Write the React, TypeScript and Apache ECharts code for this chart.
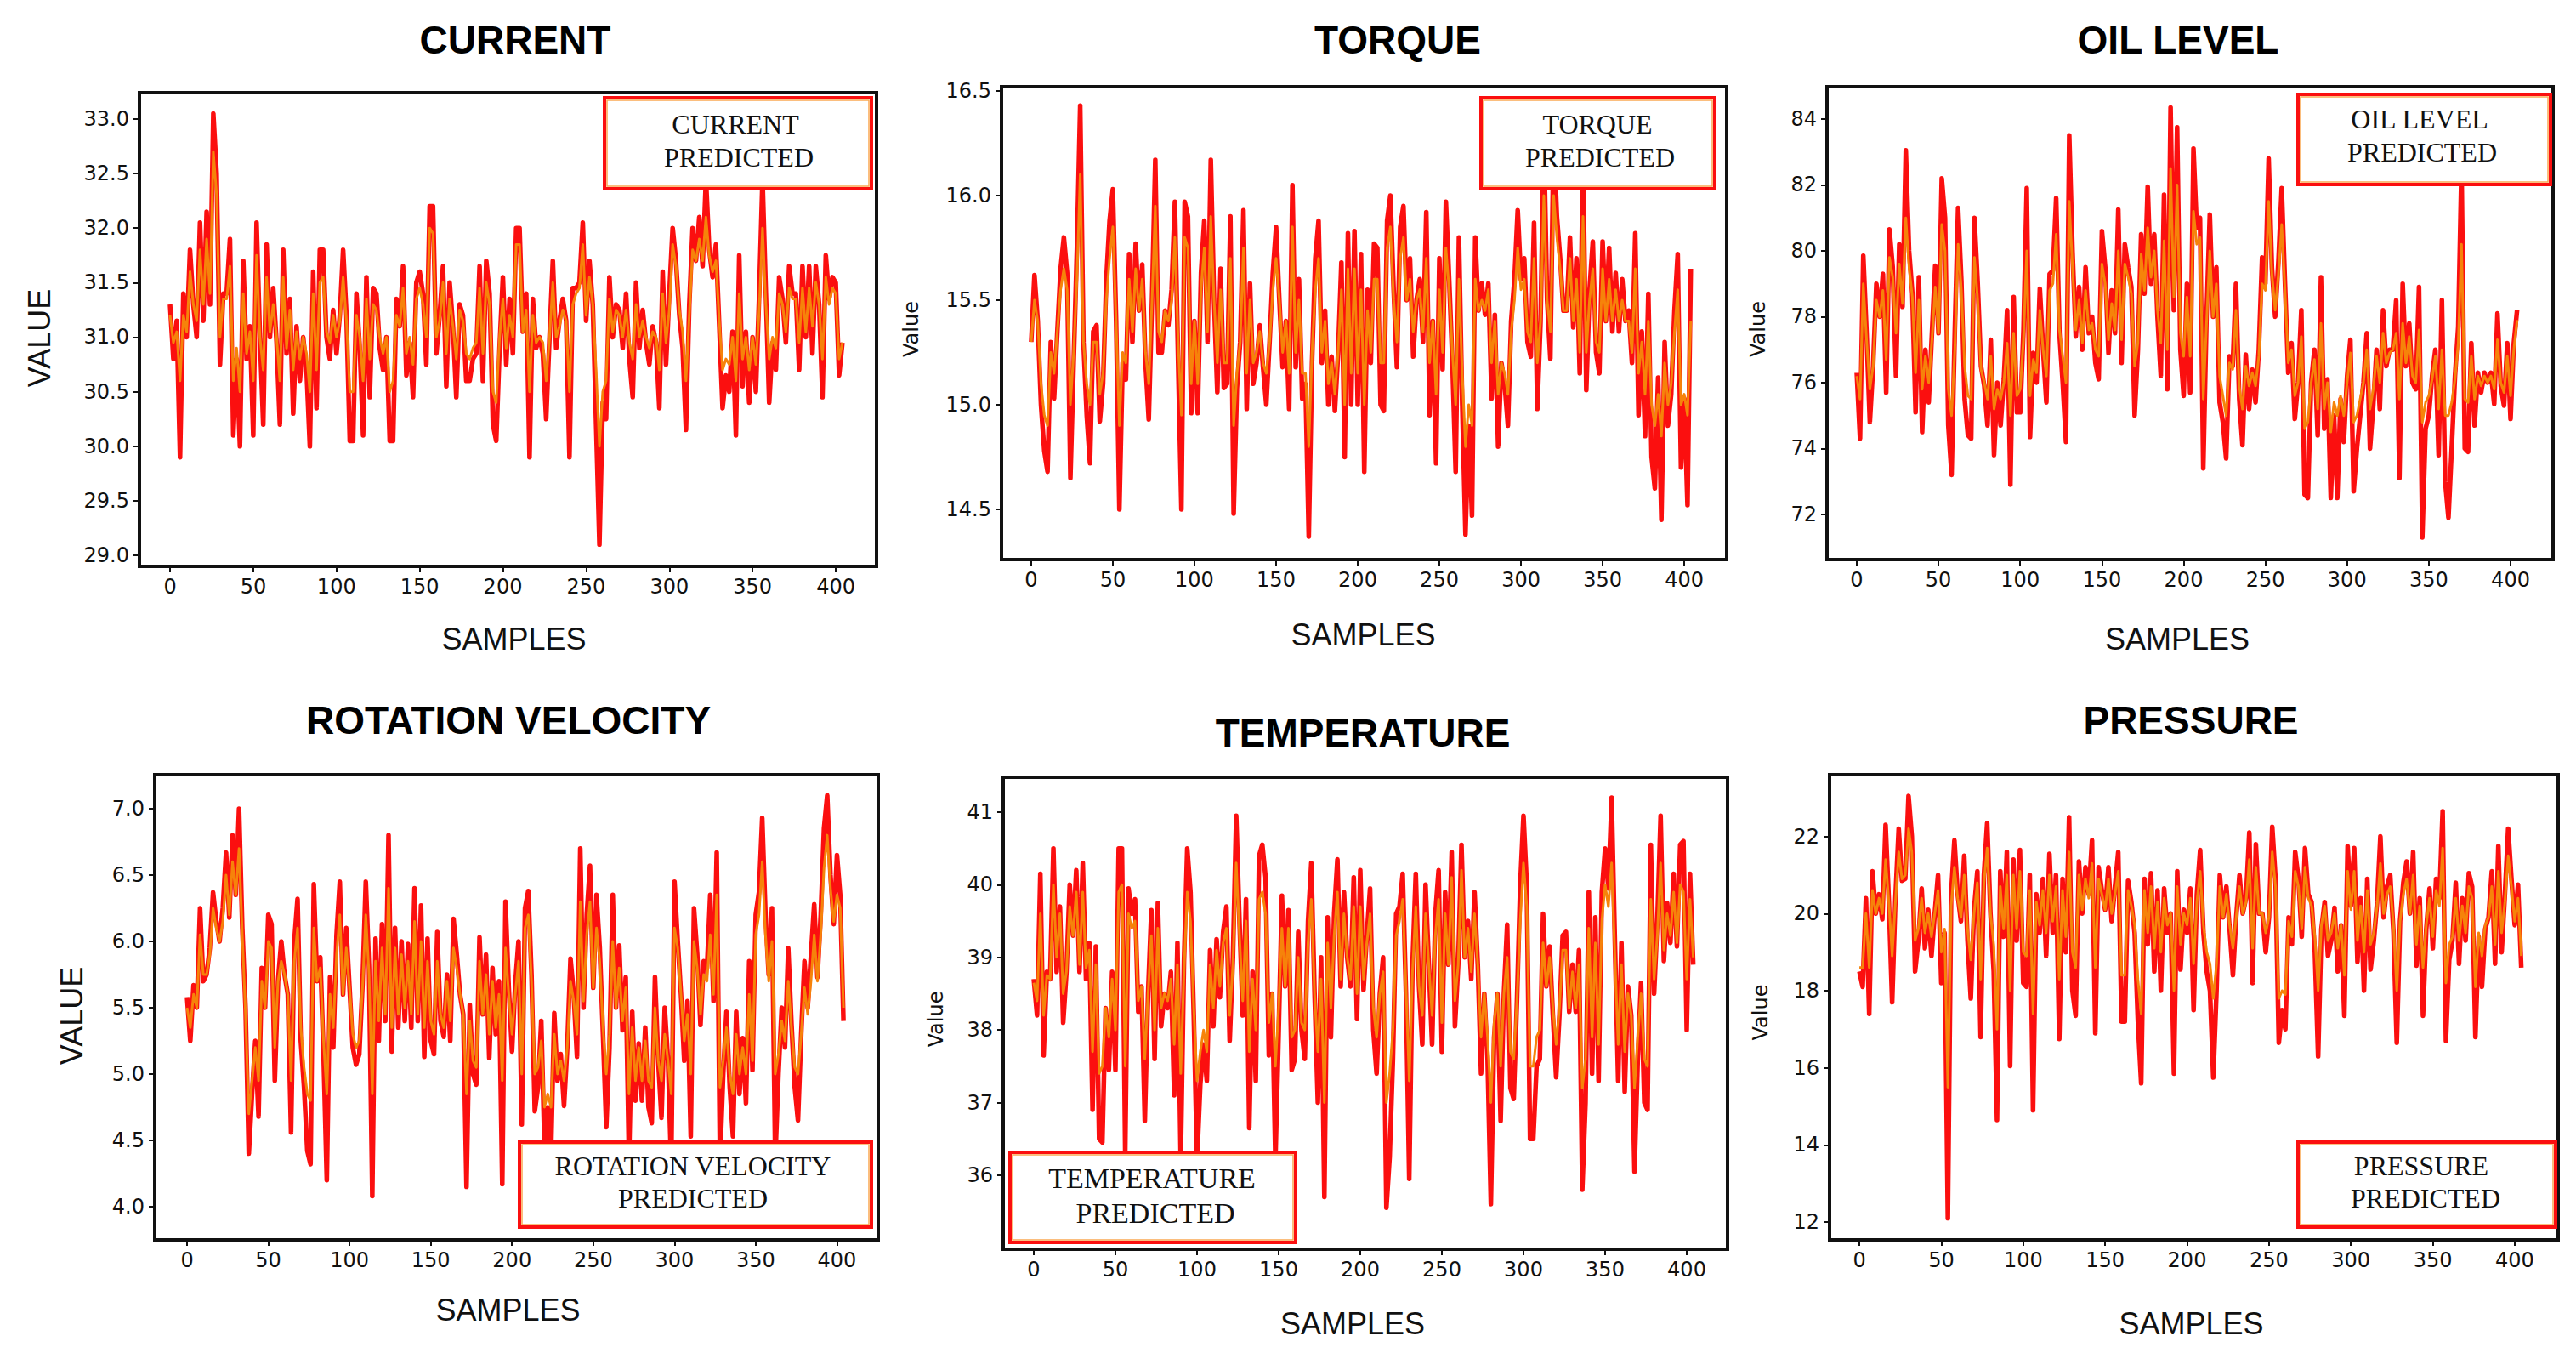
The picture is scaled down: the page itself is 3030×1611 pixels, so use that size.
import React, { useEffect, useRef } from "react";
import * as echarts from "echarts";

// Sample spacing of the value lists below: each list holds readings at samples 0, 2, 4 ... 404.
const sampleStep = 2;

const currentActual = [
  31.3,30.8,31.15,29.9,31.4,31.0,31.8,31.3,31.0,32.05,
  31.15,32.15,31.3,33.05,32.5,30.75,31.4,31.4,31.9,30.1,
  30.8,30.0,31.7,30.8,31.1,30.1,32.05,31.0,30.2,31.85,
  31.0,31.45,30.95,30.2,31.8,30.85,31.35,30.3,31.1,30.6,
  31.0,30.7,30.0,31.6,30.35,31.8,31.8,31.0,30.8,31.25,
  30.85,31.2,31.8,31.2,30.05,30.05,31.4,30.9,30.1,31.55,
  30.45,31.45,31.4,30.9,30.7,31.0,30.05,30.05,31.35,31.1,
  31.65,30.65,30.95,30.45,31.5,31.6,31.4,30.75,32.2,32.2,
  30.85,31.2,31.65,30.55,31.5,31.1,30.45,31.3,31.2,30.6,
  30.6,30.8,30.85,31.65,30.6,31.7,31.4,30.2,30.05,30.9,
  31.55,30.75,31.35,30.85,32.0,32.0,31.05,31.4,29.9,31.35,
  30.9,31.0,30.85,30.25,31.0,31.7,30.9,31.15,31.35,31.15,
  29.9,31.45,31.45,31.5,32.05,31.15,31.7,31.3,30.2,29.1,
  30.4,30.25,31.55,31.0,31.3,31.25,30.9,31.4,30.8,30.45,
  31.5,30.9,31.25,30.95,30.75,31.1,30.95,30.35,31.6,30.75,
  31.4,32.0,31.7,31.2,30.9,30.15,31.3,32.0,31.7,32.1,
  31.65,32.45,31.8,31.55,31.85,31.1,30.35,30.65,30.5,31.05,
  30.1,31.75,30.55,31.05,30.4,31.0,30.5,31.4,32.45,31.4,
  30.4,30.95,30.7,31.55,31.35,30.95,31.65,31.4,31.4,30.7,
  31.65,31.0,31.65,30.85,31.65,31.3,30.45,31.75,31.35,31.55,
  31.5,30.65,30.95,
];
const currentPredicted = [
  31.2,30.95,31.05,30.6,31.2,31.05,31.6,31.3,31.15,31.8,
  31.3,31.9,31.4,32.7,32.3,31.0,31.35,31.35,31.65,30.6,
  30.9,30.5,31.4,30.85,31.05,30.6,31.75,31.0,30.7,31.55,
  31.05,31.3,31.0,30.6,31.55,30.9,31.25,30.7,31.05,30.8,
  31.0,30.85,30.5,31.4,30.7,31.5,31.55,31.05,30.95,31.2,
  31.0,31.15,31.55,31.15,30.5,30.5,31.2,31.0,30.6,31.35,
  30.8,31.3,31.25,31.0,30.85,31.0,30.5,30.6,31.2,31.1,
  31.45,30.85,31.0,30.75,31.35,31.45,31.3,31.0,32.0,31.95,
  31.0,31.15,31.5,30.85,31.35,31.1,30.8,31.25,31.15,30.85,
  30.8,30.9,30.95,31.45,30.85,31.5,31.3,30.5,30.4,31.0,
  31.35,30.9,31.2,31.0,31.85,31.85,31.05,31.25,30.5,31.2,
  30.95,31.0,30.95,30.6,31.0,31.5,31.0,31.1,31.25,31.15,
  30.5,31.3,31.4,31.45,31.85,31.2,31.55,31.3,30.7,30.0,
  30.5,30.6,31.35,31.05,31.25,31.2,31.0,31.25,30.95,30.8,
  31.3,31.0,31.15,31.0,30.9,31.05,31.0,30.7,31.4,30.95,
  31.25,31.85,31.65,31.25,31.05,30.6,31.2,31.8,31.7,31.9,
  31.7,32.1,31.75,31.6,31.7,31.15,30.7,30.8,30.75,31.0,
  30.6,31.4,30.8,31.0,30.7,31.0,30.75,31.25,32.0,31.3,
  30.8,31.0,30.9,31.4,31.3,31.05,31.45,31.35,31.35,30.95,
  31.45,31.05,31.45,31.1,31.5,31.3,30.8,31.55,31.3,31.45,
  31.4,30.8,30.95,
];

const torqueActual = [
  15.3,15.62,15.4,15.0,14.78,14.68,15.3,15.03,15.35,15.65,
  15.8,15.63,14.65,15.2,15.75,16.43,15.3,14.95,14.72,15.35,
  15.38,14.92,15.1,15.6,15.88,16.03,15.4,14.5,15.2,15.12,
  15.72,15.3,15.77,15.45,15.67,15.2,14.93,15.5,16.17,15.25,
  15.25,15.45,15.38,15.55,15.97,15.2,14.5,15.97,15.9,14.96,
  15.4,14.96,15.63,15.88,15.3,16.17,15.5,15.06,15.65,15.08,
  15.1,15.9,14.48,15.08,15.3,15.93,14.98,15.58,15.1,15.2,
  15.38,15.18,15.0,15.3,15.63,15.85,15.5,15.18,15.4,14.98,
  16.05,15.18,15.6,15.03,15.1,14.37,15.2,15.7,15.88,15.2,
  15.45,15.0,15.23,14.97,15.25,15.68,14.75,15.82,15.0,15.83,
  15.0,15.72,14.68,15.55,15.2,15.77,15.75,15.0,14.97,15.88,
  16.0,15.55,15.18,15.85,15.95,15.5,15.7,15.23,15.5,15.6,
  15.3,15.92,14.95,15.4,14.72,15.7,15.17,15.97,15.6,15.2,
  14.68,15.8,15.0,14.38,14.9,14.47,15.8,15.45,15.58,15.43,
  15.58,15.03,15.43,14.8,15.2,15.1,14.9,15.4,15.6,15.93,
  15.6,15.7,15.3,15.23,15.87,14.98,15.4,16.3,15.5,15.22,
  16.3,15.9,15.7,15.45,15.45,15.8,15.37,15.7,15.15,16.2,
  15.07,15.55,15.78,15.25,15.15,15.78,15.4,15.75,15.35,15.63,
  15.35,15.6,15.4,15.45,15.2,15.82,14.95,15.35,14.85,15.53,
  14.75,14.6,15.13,14.45,15.3,14.9,15.05,15.45,15.72,14.7,
  15.03,14.52,15.65,
];
const torquePredicted = [
  15.3,15.5,15.4,15.1,14.95,14.9,15.25,15.15,15.35,15.55,
  15.65,15.55,15.0,15.25,15.6,16.1,15.3,15.1,15.0,15.3,
  15.3,15.05,15.15,15.5,15.7,15.85,15.4,14.9,15.25,15.2,
  15.6,15.35,15.65,15.45,15.6,15.25,15.1,15.5,15.95,15.35,
  15.3,15.45,15.4,15.5,15.8,15.3,14.95,15.8,15.75,15.1,
  15.4,15.1,15.55,15.75,15.35,15.9,15.5,15.2,15.55,15.2,
  15.2,15.7,14.9,15.15,15.3,15.75,15.15,15.5,15.2,15.25,
  15.35,15.2,15.15,15.3,15.55,15.7,15.5,15.25,15.4,15.15,
  15.85,15.25,15.5,15.15,15.15,14.8,15.25,15.55,15.7,15.25,
  15.4,15.1,15.2,15.05,15.25,15.55,15.0,15.65,15.15,15.65,
  15.15,15.55,15.0,15.45,15.25,15.6,15.6,15.2,15.2,15.75,
  15.85,15.5,15.3,15.7,15.8,15.5,15.6,15.35,15.5,15.55,
  15.35,15.7,15.2,15.4,15.05,15.55,15.25,15.75,15.55,15.25,
  15.0,15.6,15.15,14.8,15.0,14.9,15.6,15.45,15.5,15.45,
  15.55,15.2,15.4,15.05,15.2,15.15,15.05,15.35,15.5,15.75,
  15.55,15.6,15.35,15.3,15.7,15.2,15.4,16.0,15.5,15.35,
  16.0,15.8,15.65,15.45,15.45,15.7,15.4,15.6,15.25,15.9,
  15.25,15.5,15.65,15.3,15.25,15.65,15.4,15.6,15.4,15.55,
  15.4,15.5,15.4,15.4,15.25,15.65,15.15,15.3,15.05,15.4,
  15.0,14.9,15.05,14.85,15.2,15.0,15.1,15.35,15.55,15.0,
  15.05,14.95,15.4,
];

const oilActual = [
  76.3,74.3,79.85,77.5,74.8,76.5,79.0,78.0,79.3,75.7,
  80.65,79.5,76.2,80.2,78.3,83.05,80,78.7,75.1,79.2,
  74.5,77,75.4,77.5,79.55,77.5,82.2,81,74.7,73.2,
  77.6,81.3,79.1,75.5,74.4,74.3,81,79,76.5,75.9,
  74.7,77.3,73.8,76,74.7,76.1,78.2,72.9,78.6,75.1,
  75.1,77.6,81.9,74.35,76.9,76,78.85,77,75.4,79.3,
  79.4,81.6,77.5,76,74.2,83.5,80,77.4,78.9,77,
  79.5,77.5,78,76.6,76.1,80.6,79.5,76.9,78.8,77.5,
  81.25,76.6,80.2,79.5,78.9,75,77,80.5,78.7,81.95,
  79,80.5,78,76.2,81.7,75.8,84.35,78.2,83.75,77,
  75.6,79,75.7,83.1,80.7,81,73.4,78,81.1,78,
  79.5,75.4,74.8,73.7,76.8,76.5,79,75.5,74.1,76.85,
  75.2,76.4,75.4,77,79.8,79,82.8,79.5,78,79.7,
  81.9,79,76.3,77.2,74.9,76,78.2,72.6,72.5,76,
  77,74.4,79.2,74.6,76.1,72.5,75,72.5,75.5,74.2,
  76.2,77.3,72.7,74,75,76,77.5,74,75.3,77,
  75.2,78.2,76.5,77,77,78.5,73.1,79,76.5,77.8,
  76,75.8,78.9,71.3,74.6,75,76.2,77,73.8,78.5,
  73,71.9,74,76.2,77.7,82.6,74,73.9,77.2,74.7,
  76.3,75.7,76.3,76,76.3,75.35,78.1,75.9,75.3,77.2,
  74.9,77.2,78.2,
];
const oilPredicted = [
  76.2,75.5,79,77.3,75.8,76.5,78.5,78,78.8,76.7,
  79.8,79.2,77.5,79.6,78.4,81,79.5,78.6,76.3,78.5,
  75.8,76.8,76,77.3,78.9,77.5,80.8,80,75.8,75,
  77,80.2,78.8,76.5,75.6,75.5,79.8,78.5,76.4,76,
  75.5,76.8,75.2,75.8,75.5,76,77.2,75,77.5,75.6,
  75.8,77.3,80,75.6,76.7,76.3,78.2,77,76.2,78.8,
  79,80.5,77.6,76.8,76,81.5,79.5,77.6,78.5,77.2,
  78.8,77.6,77.8,77,76.8,79.6,79,77.3,78.4,77.6,
  80,77.3,79.6,79.2,78.7,76.5,77.2,79.9,78.8,80.7,
  79.2,80,78.2,77.2,80.3,77,82.5,78.6,82,77.5,
  76.8,78.6,76.8,81.2,80.2,80.4,75.5,77.8,80,78,
  79,76.2,75.6,75,76.6,76.4,78.2,75.9,75.2,76.5,
  75.9,76.3,75.9,76.8,79,78.8,81.5,79.3,78.2,79.3,
  80.8,78.8,76.6,77,75.6,76,77.4,74.6,74.8,76,
  76.7,75.2,77.8,75.2,76,74.5,75.4,75,75.6,75,
  76,76.9,74.8,75,75.5,76,77,75.2,75.8,76.8,
  76,77.5,76.6,76.9,77,77.5,75.5,77.8,76.6,77.4,
  76.2,76,77.6,74.8,75.4,75.6,76.1,76.8,75.2,77,
  75,75,75.4,76.1,77.2,80.2,75.5,75.4,76.8,75.5,
  76.2,75.9,76.2,76,76.2,75.8,77.3,76,75.7,76.8,
  75.6,77,77.9,
];

const rotationActual = [
  5.58,5.25,5.67,5.5,6.25,5.7,5.75,5.95,6.37,6.15,
  6.0,6.25,6.67,6.18,6.8,6.35,7.0,6.1,5.5,4.4,
  4.85,5.25,4.68,5.8,5.5,6.2,6.13,4.95,5.7,6.0,
  5.75,5.6,4.56,6.0,6.32,5.25,4.9,4.42,4.32,6.43,
  5.7,5.88,5.15,4.2,5.73,5.2,6.05,6.45,5.6,6.1,
  5.65,5.2,5.07,5.15,5.68,6.45,5.8,4.08,6.02,5.25,
  6.13,5.4,6.8,5.17,6.1,5.35,6.0,5.4,5.98,5.35,
  6.4,5.4,6.27,5.13,6.02,5.25,5.15,6.07,5.4,5.28,
  5.75,5.25,6.17,5.9,5.6,5.45,4.15,5.52,5.0,4.92,
  6.03,5.45,5.9,5.12,5.8,5.3,5.7,4.17,6.3,5.65,
  5.17,5.68,6.0,4.62,6.25,6.38,5.75,4.72,4.9,5.4,
  4.45,4.75,4.4,5.46,4.95,5.15,4.76,5.2,5.87,5.6,
  5.13,6.7,5.5,6.2,6.57,5.65,6.35,5.95,5.3,4.6,
  5.2,6.35,5.5,5.97,5.33,5.73,4.35,5.47,4.8,5.23,
  4.8,5.35,4.75,4.63,5.73,5.1,4.67,5.5,5.1,4.3,
  6.45,6.0,5.6,5.1,5.55,4.53,6.25,5.9,5.37,5.85,
  5.8,6.35,5.55,6.67,4.35,5.0,5.47,4.9,4.53,5.47,
  4.85,5.27,4.78,5.85,5.03,6.2,6.37,6.93,6.2,5.75,
  6.25,4.35,5.0,5.5,5.2,5.95,5.38,4.9,4.65,5.3,
  5.85,5.5,5.9,6.28,5.73,6.2,6.85,7.1,6.5,6.13,
  6.65,6.35,5.4,
];
const rotationPredicted = [
  5.5,5.35,5.6,5.5,6.05,5.75,5.75,5.9,6.25,6.1,
  6.0,6.15,6.5,6.2,6.6,6.35,6.7,6.05,5.45,4.7,
  4.95,5.2,4.95,5.7,5.5,6.0,5.95,5.2,5.7,5.85,
  5.75,5.6,4.95,5.85,6.1,5.35,5.05,4.85,4.8,6.1,
  5.7,5.8,5.25,4.85,5.6,5.35,5.9,6.2,5.6,5.95,
  5.65,5.3,5.2,5.25,5.65,6.2,5.75,4.85,5.85,5.4,
  5.95,5.45,6.4,5.35,5.95,5.45,5.9,5.5,5.85,5.45,
  6.15,5.45,6.0,5.35,5.85,5.4,5.3,5.85,5.45,5.35,
  5.7,5.4,5.95,5.8,5.6,5.45,4.85,5.4,5.1,5.05,
  5.85,5.45,5.75,5.3,5.7,5.35,5.6,4.95,5.95,5.6,
  5.3,5.6,5.85,5.0,6.1,6.2,5.7,5.0,5.05,5.25,
  4.75,4.85,4.75,5.3,5.0,5.1,4.95,5.2,5.7,5.55,
  5.3,6.3,5.55,6.05,6.3,5.65,6.1,5.85,5.35,5.0,
  5.3,6.0,5.5,5.8,5.4,5.65,4.85,5.35,4.95,5.2,
  4.95,5.25,4.95,4.9,5.5,5.1,4.95,5.3,5.1,4.85,
  6.1,5.95,5.6,5.25,5.45,5.0,6.0,5.8,5.45,5.75,
  5.7,6.05,5.6,6.35,4.9,5.1,5.35,5.0,4.85,5.3,
  5.0,5.2,5.0,5.6,5.1,6.05,6.2,6.6,6.05,5.7,
  6.0,5.0,5.15,5.4,5.25,5.7,5.35,5.05,5.0,5.3,
  5.65,5.45,5.7,6.05,5.7,6.05,6.55,6.8,6.4,6.15,
  6.35,6.25,5.5,
];

const temperatureActual = [
  38.7,38.2,40.15,37.65,38.8,38.7,40.5,38.8,39.7,38.1,
  38.8,40,39.3,40.2,38.8,40.3,38.7,39.2,36.9,39.15,
  36.5,36.45,38.3,37.45,38.8,37.45,40.5,40.5,36.3,39.95,
  39.6,39.8,38.25,38.6,36.75,38.5,39.65,37.6,39.75,38.05,
  38.5,38.3,38.8,37.1,39.2,36.2,38.95,40.5,39.9,38.2,
  36.2,37.25,37.8,37.3,39.1,38.05,39.25,38.45,39.35,39.7,
  37.85,39,40.95,39.5,38.2,39.8,36.65,38.8,37.3,40.4,
  40.55,40.1,37.65,38.5,36.2,37.95,39.85,38.6,39.65,37.45,
  37.6,39.35,38,37.6,39.5,40.3,38.5,37,39,35.7,
  39.55,37.9,39.6,40.35,38.6,39.9,39,38.6,40.1,38.15,
  40.2,38.55,39.3,39.95,38,37.4,38.5,39,35.55,36.25,
  37.6,39.6,39.7,40.15,38.5,35.95,38.9,40.15,38.6,37.8,
  40,38.9,37.8,39.6,40.2,37.7,39.9,38.9,40.45,38.05,
  38.9,40.55,39,39.5,38.7,39.9,38.9,37.4,38.5,37.6,
  35.6,37.9,38.5,36.75,38.5,39.45,37.2,37.05,38.4,40,
  40.95,40,36.5,36.5,37.5,37.6,39.6,38.6,39.15,38.2,
  37.35,38.2,39.3,39.35,38.25,38.9,38.25,39.1,35.8,37,
  39.9,37.4,39.55,37.3,39.9,40.5,39.95,41.2,39.2,37.3,
  39.2,37.15,38.6,38.2,36.05,37.6,38.65,37,36.9,40.55,
  38.5,39.5,40.95,38.95,39.75,39.2,40.15,39.15,40.55,40.6,
  38,40.15,38.9,
];
const temperaturePredicted = [
  38.65,38.4,39.6,38.2,38.75,38.7,40,39,39.6,38.5,
  38.8,39.7,39.3,39.9,38.9,39.9,38.85,39.1,37.7,38.9,
  37.4,37.5,38.3,37.9,38.7,38,39.9,40,37.5,39.6,
  39.4,39.5,38.4,38.6,37.6,38.5,39.3,38,39.4,38.3,
  38.5,38.4,38.7,37.8,38.9,37.4,38.8,39.9,39.5,38.3,
  37.3,37.7,38,37.7,38.9,38.3,39.1,38.6,39.2,39.4,
  38.2,38.9,40.3,39.3,38.4,39.5,37.7,38.7,38,39.8,
  39.9,39.6,38.1,38.5,37.5,38.3,39.4,38.6,39.4,37.9,
  38,39,38.1,38,39.2,39.8,38.5,37.7,38.7,37,
  39.2,38.3,39.3,39.9,38.7,39.6,39,38.7,39.7,38.5,
  39.7,38.7,39.2,39.6,38.3,37.9,38.5,38.8,37,37.4,
  38,39.3,39.5,39.8,38.6,37.3,38.8,39.7,38.6,38.2,
  39.6,38.9,38.2,39.3,39.8,38.1,39.6,38.9,40.1,38.4,
  38.9,40.2,39,39.4,38.8,39.6,38.9,37.9,38.5,37.9,
  37,38.1,38.5,37.5,38.5,39,37.7,37.6,38.4,39.5,
  40.3,39.7,37.5,37.5,37.9,38,39.2,38.6,39,38.3,
  37.8,38.3,39.1,39.1,38.3,38.8,38.3,38.9,37.2,37.6,
  39.4,37.9,39.2,37.8,39.5,40,39.7,40.3,39,37.8,
  38.9,37.7,38.5,38.2,37.2,37.9,38.5,37.6,37.5,39.8,
  38.7,39.3,40.3,39.1,39.6,39.3,39.9,39.2,40,39.9,
  38.7,39.8,39,
];

const pressureActual = [
  18.5,18.1,20.4,17.4,21.1,20,20.5,19.85,22.3,20.3,
  17.7,20.4,22.2,20.85,20.9,23.05,22,18.5,19.3,20.65,
  19.1,20.1,18.9,20,21,18.2,19.5,12.1,20.5,21.9,
  20.5,19.8,21.5,19.3,17.8,20.1,21.1,16.8,21,22.35,
  20,18.5,14.65,21.1,19.4,21.6,16.05,21.4,19.3,21.65,
  18.2,18.1,21,14.9,20.5,19.5,20.9,18.9,21.55,19.5,
  21,16.75,20.9,19,22.5,18,17.35,21.35,20,21.2,
  20.5,21.9,16.9,21.2,20.6,20.1,21.2,19.8,20.7,21.6,
  17.2,17.2,20.85,20.3,19.5,17.2,15.6,20.9,19.2,21.05,
  18.5,20.6,18,20.65,19.5,20,15.85,21.1,18.55,20.1,
  19.5,20.65,17.5,20.5,21.65,19.5,18.5,18,15.75,18,
  21,19.9,20.7,19.6,18.4,19.9,21,20,20.4,22.1,
  18.2,21.8,20,20,19,19.9,22.25,20.9,16.65,17.5,
  17,19.9,19.2,21.6,20.9,19.4,21.7,20.5,20.3,19,
  16.3,19.6,20.3,18.9,19.3,20.15,18.5,19.7,17.35,21.75,
  20.2,21.7,18.75,20.4,18,20.9,18.55,19.3,20.3,22,
  19.9,20.7,21,19.5,16.65,19.8,20.8,21.35,20,21.6,
  18.65,20.4,17.35,19.6,20.65,19.1,20.9,20.4,22.65,16.7,
  18.8,19.3,20.8,18.7,20.4,19.3,21.05,20.7,16.8,19.4,
  18.1,19.6,19.9,21.1,18.7,21.75,19,20.5,22.2,20.9,
  19.7,20.75,18.6,
];
const pressurePredicted = [
  18.6,18.6,20,18.6,20.6,20,20.4,20,21.4,20.3,
  18.9,20.3,21.6,20.9,21,22.2,21.6,19.3,19.6,20.4,
  19.5,20,19.4,20,20.6,19,19.6,15.5,20.2,21.2,
  20.4,19.9,21,19.6,18.8,20,20.8,18.3,20.8,21.7,
  20,19.2,17,20.7,19.6,21,18,21,19.6,21.1,
  19,18.9,20.6,17.4,20.3,19.7,20.6,19.5,21,19.8,
  20.7,18.3,20.6,19.4,21.6,19,18.6,21,20.1,20.9,
  20.4,21.3,18.6,20.9,20.5,20.1,20.9,20,20.5,21.1,
  18.4,18.4,20.6,20.2,19.7,18.3,17.4,20.6,19.5,20.7,
  19.1,20.3,19,20.4,19.7,20,18,20.7,19.2,20,
  19.7,20.4,18.7,20.3,21.1,19.7,19,18.7,17.8,18.7,
  20.7,19.9,20.5,19.7,19.1,19.9,20.7,20,20.3,21.4,
  19.1,21.2,20,20,19.5,19.9,21.6,20.7,17.8,18,
  17.9,19.8,19.4,21.1,20.7,19.6,21.2,20.4,20.2,19.4,
  18,19.7,20.2,19.3,19.5,20,19.1,19.7,18.4,21.1,
  20.1,21.1,19.3,20.2,19,20.6,19.2,19.5,20.2,21.3,
  20,20.5,20.7,19.7,18,19.8,20.5,20.9,20,21,
  19.2,20.2,18.6,19.7,20.4,19.4,20.6,20.2,21.7,18.2,
  19.2,19.4,20.4,19.3,20.2,19.5,20.7,20.4,18.1,19.5,
  18.9,19.7,19.9,20.7,19.2,21.1,19.5,20.3,21.5,20.7,
  19.8,20.4,18.9,
];

const xTicks = [0, 50, 100, 150, 200, 250, 300, 350, 400];
const currentTicks = [29.0, 29.5, 30.0, 30.5, 31.0, 31.5, 32.0, 32.5, 33.0];
const torqueTicks = [14.5, 15.0, 15.5, 16.0, 16.5];
const oilTicks = [72, 74, 76, 78, 80, 82, 84];
const rotationTicks = [4.0, 4.5, 5.0, 5.5, 6.0, 6.5, 7.0];
const temperatureTicks = [36, 37, 38, 39, 40, 41];
const pressureTicks = [12, 14, 16, 18, 20, 22];

const RED = "#fb0f0f";
const ORANGE = "#f6830a";

type Panel = {
  title: string; titleX: number; titleY: number;
  actual: number[]; predicted: number[]; ticks: number[]; digits: number;
  box: [number, number, number, number];
  xRange: [number, number]; yRange: [number, number];
  yName: string; yNameGap: number; yNameShift: number; yNameSize: number; yNameFont: string;
  xNameShift: number; xNameGap: number;
  legend: [number, number, number, number];
  legendLines: [string, number, number][]; legendSize: number;
};

const panels: Panel[] = [
  { title: "CURRENT", titleX: 601, titleY: 46, actual: currentActual, predicted: currentPredicted, ticks: currentTicks, digits: 1,
    box: [164, 109, 1031, 666], xRange: [-18.4, 424.5], yRange: [28.9, 33.24],
    yName: "VALUE", yNameGap: 100, yNameShift: 10, yNameSize: 36, yNameFont: "Liberation Sans", xNameShift: 7, xNameGap: 67,
    legend: [711, 115, 1025, 222], legendLines: [["CURRENT", 865, 146], ["PREDICTED", 869, 185]], legendSize: 32 },
  { title: "TORQUE", titleX: 1639, titleY: 46, actual: torqueActual, predicted: torquePredicted, ticks: torqueTicks, digits: 1,
    box: [1178, 102, 2031, 658], xRange: [-18.2, 426], yRange: [14.26, 16.52],
    yName: "Value", yNameGap: 94, yNameShift: 7, yNameSize: 24, yNameFont: "DejaVu Sans", xNameShift: -1, xNameGap: 70,
    legend: [1742, 115, 2017, 222], legendLines: [["TORQUE", 1879, 146], ["PREDICTED", 1882, 185]], legendSize: 32 },
  { title: "OIL LEVEL", titleX: 2557, titleY: 46, actual: oilActual, predicted: oilPredicted, ticks: oilTicks, digits: 0,
    box: [2149, 102, 3003, 658], xRange: [-18.2, 426], yRange: [70.63, 84.98],
    yName: "Value", yNameGap: 69, yNameShift: 7, yNameSize: 24, yNameFont: "DejaVu Sans", xNameShift: -15, xNameGap: 75,
    legend: [2703, 111, 3000, 217], legendLines: [["OIL LEVEL", 2846, 140], ["PREDICTED", 2849, 179]], legendSize: 32 },
  { title: "ROTATION VELOCITY", titleX: 593, titleY: 846, actual: rotationActual, predicted: rotationPredicted, ticks: rotationTicks, digits: 1,
    box: [182, 911, 1033, 1458], xRange: [-19.9, 425.4], yRange: [3.75, 7.256],
    yName: "VALUE", yNameGap: 80, yNameShift: 10, yNameSize: 36, yNameFont: "Liberation Sans", xNameShift: -10, xNameGap: 64,
    legend: [611, 1343, 1025, 1443], legendLines: [["ROTATION VELOCITY", 815, 1371], ["PREDICTED", 815, 1409]], legendSize: 32 },
  { title: "TEMPERATURE", titleX: 1598, titleY: 861, actual: temperatureActual, predicted: temperaturePredicted, ticks: temperatureTicks, digits: 0,
    box: [1180, 914, 2032, 1469], xRange: [-18.75, 425], yRange: [34.98, 41.48],
    yName: "Value", yNameGap: 67, yNameShift: 7, yNameSize: 24, yNameFont: "DejaVu Sans", xNameShift: -15, xNameGap: 69,
    legend: [1188, 1355, 1524, 1461], legendLines: [["TEMPERATURE", 1355, 1385], ["PREDICTED", 1359, 1426]], legendSize: 34 },
  { title: "PRESSURE", titleX: 2572, titleY: 846, actual: pressureActual, predicted: pressurePredicted, ticks: pressureTicks, digits: 0,
    box: [2152, 911, 3009, 1458], xRange: [-18.2, 426.5], yRange: [11.54, 23.6],
    yName: "Value", yNameGap: 69, yNameShift: 6, yNameSize: 24, yNameFont: "DejaVu Sans", xNameShift: -3, xNameGap: 80,
    legend: [2703, 1343, 3006, 1443], legendLines: [["PRESSURE", 2848, 1371], ["PREDICTED", 2853, 1409]], legendSize: 32 },
];

const pairs = (values: number[]) => values.map((v, i) => [i * sampleStep, v]);

function buildOption() {
  const tickFont = { fontFamily: "DejaVu Sans", fontSize: 24, color: "#111" };
  return {
    animation: false,
    backgroundColor: "#fff",
    title: panels.map((p) => ({
      text: p.title, left: p.titleX, top: p.titleY - 27, textAlign: "center",
      textStyle: { fontFamily: "Liberation Sans", fontWeight: "bold", fontSize: 46, color: "#000" },
    })),
    grid: panels.map((p) => ({
      left: p.box[0], top: p.box[1], width: p.box[2] - p.box[0], height: p.box[3] - p.box[1],
      show: true, borderColor: "#111", borderWidth: 4, backgroundColor: "#fff", containLabel: false,
    })),
    xAxis: panels.map((p, i) => ({
      type: "value", gridIndex: i, min: p.xRange[0], max: p.xRange[1], splitLine: { show: false },
      axisLine: { show: true, onZero: false, lineStyle: { color: "#111", width: 4 } },
      axisTick: { show: true, length: 7, customValues: xTicks, lineStyle: { color: "#111", width: 2 } },
      axisLabel: { ...tickFont, margin: 12, customValues: xTicks, formatter: (v: number) => String(v) },
      name: "SAMPLES", nameLocation: "middle", nameGap: p.xNameGap, nameMoveOverlap: false,
      nameTextStyle: {
        fontFamily: "Liberation Sans", fontSize: 36, color: "#111",
        padding: p.xNameShift >= 0 ? [0, 0, 0, 2 * p.xNameShift] : [0, -2 * p.xNameShift, 0, 0],
      },
    })),
    yAxis: panels.map((p, i) => ({
      type: "value", gridIndex: i, min: p.yRange[0], max: p.yRange[1], splitLine: { show: false },
      axisLine: { show: true, onZero: false, lineStyle: { color: "#111", width: 4 } },
      axisTick: { show: true, length: 7, customValues: p.ticks, lineStyle: { color: "#111", width: 2 } },
      axisLabel: { ...tickFont, margin: 12, customValues: p.ticks, formatter: (v: number) => v.toFixed(p.digits) },
      name: p.yName, nameLocation: "middle", nameGap: p.yNameGap, nameMoveOverlap: false,
      nameTextStyle: {
        fontFamily: p.yNameFont, fontSize: p.yNameSize, color: "#111",
        padding: [0, 2 * p.yNameShift, 0, 0],
      },
    })),
    series: panels.flatMap((p, i) => [
      { name: `${p.title} actual`, type: "line", xAxisIndex: i, yAxisIndex: i, data: pairs(p.actual),
        showSymbol: false, silent: true, lineStyle: { color: RED, width: 5.5, join: "round" }, z: 2 },
      { name: `${p.title} predicted`, type: "line", xAxisIndex: i, yAxisIndex: i, data: pairs(p.predicted),
        showSymbol: false, silent: true, lineStyle: { color: ORANGE, width: 3, join: "round" }, z: 3 },
    ]),
    graphic: panels.flatMap((p) => {
      const [x0, y0, x1, y1] = p.legend;
      return [
        { type: "rect", z: 100, shape: { x: x0, y: y0, width: x1 - x0, height: y1 - y0 },
          style: { fill: "#fff", stroke: RED, lineWidth: 4 } },
        { type: "rect", z: 101, shape: { x: x0 + 3, y: y0 + 3, width: x1 - x0 - 6, height: y1 - y0 - 6 },
          style: { fill: "transparent", stroke: ORANGE, lineWidth: 1.5, opacity: 0.7 } },
        ...p.legendLines.map(([text, x, y]) => ({
          type: "text", z: 102, x, y,
          style: { text, fill: "#111", fontFamily: "Liberation Serif", fontSize: p.legendSize, align: "center", verticalAlign: "middle" },
        })),
      ];
    }),
  };
}

export default function App() {
  const ref = useRef<HTMLDivElement>(null);
  useEffect(() => {
    document.body.style.margin = "0";
    document.body.style.background = "#fff";
    const chart = echarts.init(ref.current!, undefined, { renderer: "svg", width: 3030, height: 1611 });
    chart.setOption(buildOption() as any);
    return () => chart.dispose();
  }, []);
  return <div ref={ref} style={{ width: 3030, height: 1611 }} />;
}
